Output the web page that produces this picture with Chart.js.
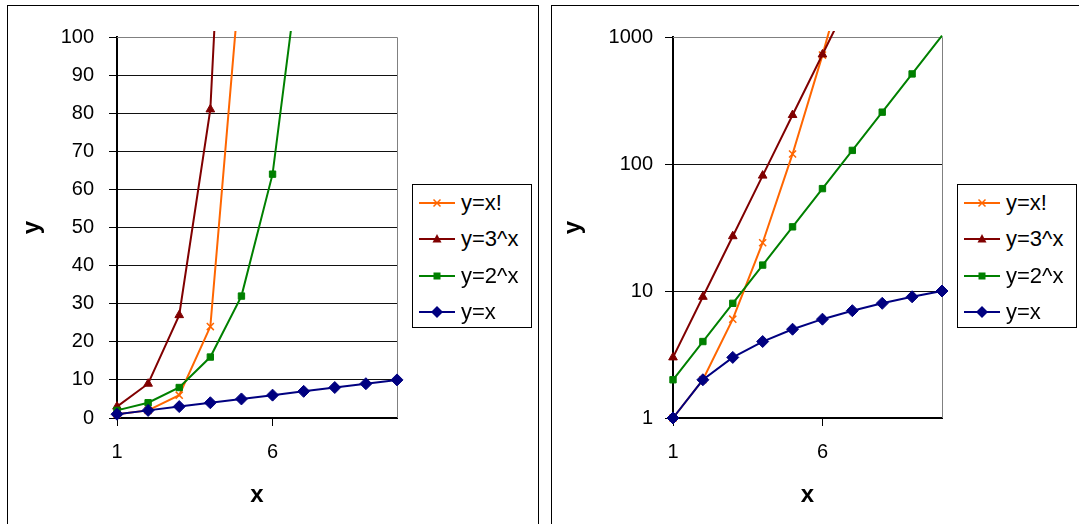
<!DOCTYPE html>
<html lang="en">
<head>
<meta charset="UTF-8" />
<script src="https://cdn.jsdelivr.net/npm/chart.js@4.4.0/dist/chart.umd.min.js"></script>
<style>
  body { margin: 0; background: #fff; width: 1079px; height: 524px; overflow: hidden; position: relative;
         font-family: "Liberation Sans", Arial, sans-serif; }
  .frame { position: absolute; border: 1px solid #000; }
  canvas { position: absolute; top: 0; }
  .legend { position: absolute; border: 1px solid #000; background: #fff; box-sizing: border-box; }
  .item { position: absolute; left: 6px; height: 36px; display: flex; align-items: center; font-size: 22px; color: #000; }
  .item svg { margin-right: 6px; }
</style>
<title>Growth</title>
</head>
<body>
<div class="frame" style="left:7px;top:5px;width:530px;height:540px"></div>
<div class="frame" style="left:551px;top:5px;width:540px;height:540px"></div>
<canvas id="lin" width="545" height="524" style="left:0"></canvas>
<canvas id="log" width="534" height="524" style="left:545px"></canvas>
<div class="legend" id="leg1" style="left:412px;top:184px;width:120px;height:144px"></div>
<div class="legend" id="leg2" style="left:957px;top:184px;width:120px;height:144px"></div>
<script>
  const xValues = [1, 2, 3, 4, 5, 6, 7, 8, 9, 10];
  const factorial = [1, 2, 6, 24, 120, 720, 5040, 40320, 362880, 3628800];
  const pow3 = [3, 9, 27, 81, 243, 729, 2187, 6561, 19683, 59049];
  const pow2 = [2, 4, 8, 16, 32, 64, 128, 256, 512, 1024];
  const identity = [1, 2, 3, 4, 5, 6, 7, 8, 9, 10];
  const seriesNames = ["y=x!", "y=3^x", "y=2^x", "y=x"];
  const xTickValues = [1, 6];
  const linTickValues = [0, 10, 20, 30, 40, 50, 60, 70, 80, 90, 100];
  const logTickValues = [1, 10, 100, 1000];

  const seriesValues = { "y=x!": factorial, "y=3^x": pow3, "y=2^x": pow2, "y=x": identity };
  const styles = {
    "y=x!": { color: "#FF6600", point: "crossRot", radius: 5, bw: 1.5 },
    "y=3^x": { color: "#800000", point: "triangle", radius: 5, bw: 1 },
    "y=2^x": { color: "#008000", point: "rect", radius: 4.5, bw: 1 },
    "y=x": { color: "#000080", point: "rectRot", radius: 6, bw: 1 },
  };

  const tickFont = { family: "'Liberation Sans', Arial", size: 20 };
  const titleFont = { family: "'Liberation Sans', Arial", size: 24, weight: "bold" };

  // dataset 0 is drawn last (on top), so y=x goes first
  function makeDatasets(yMax) {
    return seriesNames.slice().reverse().map((name) => {
      const s = styles[name];
      return {
        label: name,
        data: xValues.map((x, i) => ({ x, y: seriesValues[name][i] })),
        borderColor: s.color,
        backgroundColor: s.color,
        borderWidth: 2,
        pointStyle: s.point,
        // markers above the axis maximum are not drawn, only the line
        pointRadius: (c) => (c.raw && c.raw.y > yMax ? 0 : s.radius),
        pointBackgroundColor: s.color,
        pointBorderColor: s.color,
        pointBorderWidth: s.bw,
        tension: 0,
        clip: { left: 10, right: 10, top: 6, bottom: 10 },
      };
    });
  }

  const plotFrame = {
    id: "plotFrame",
    beforeDatasetsDraw(chart) {
      const { ctx, chartArea: a } = chart;
      ctx.save();
      ctx.strokeStyle = "#808080";
      ctx.lineWidth = 1;
      ctx.beginPath();
      ctx.moveTo(a.left, Math.round(a.top) + 0.5);
      ctx.lineTo(Math.round(a.right) + 0.5, Math.round(a.top) + 0.5);
      ctx.lineTo(Math.round(a.right) + 0.5, a.bottom);
      ctx.stroke();
      ctx.restore();
    },
  };

  function makeChart(id, yOpts, yWidth, padRight, yTitlePad, yTickPad) {
    return new Chart(document.getElementById(id), {
      type: "line",
      data: { datasets: makeDatasets(yOpts.max) },
      options: {
        responsive: false,
        animation: false,
        layout: { padding: { left: 0, top: 37, right: padRight, bottom: 0 } },
        plugins: { legend: { display: false }, tooltip: { enabled: false } },
        scales: {
          x: {
            type: "linear",
            min: 1,
            max: 10,
            afterBuildTicks: (s) => { s.ticks = xTickValues.map((v) => ({ value: v })); },
            afterFit: (s) => { s.height = 106; },
            grid: { drawOnChartArea: false, tickLength: 8, color: "#000" },
            border: { color: "#000", width: 2 },
            ticks: { font: tickFont, color: "#000", padding: 14, maxRotation: 0, autoSkip: false,
                     callback: (v) => String(v) },
            title: { display: true, text: "x", font: titleFont, color: "#000", padding: { top: 0, bottom: 14 } },
          },
          y: Object.assign({
            afterFit: (s) => { s.width = yWidth; },
            grid: {
              tickLength: 8,
              tickColor: "#000",
              color: (c) => (c.tick && c.tick.value === yOpts.max ? "#808080" : "#111"),
            },
            border: { color: "#000", width: 2 },
            ticks: { font: tickFont, color: "#000", padding: yTickPad, autoSkip: false,
                     callback: (v) => String(v) },
            title: { display: true, text: "y", font: titleFont, color: "#000", padding: { top: yTitlePad, bottom: 0 } },
          }, yOpts),
        },
      },
      plugins: [plotFrame],
    });
  }

  makeChart("lin", {
    type: "linear", min: 0, max: 100,
    afterBuildTicks: (s) => { s.ticks = linTickValues.map((v) => ({ value: v })); },
  }, 117, 148, 18, 15);

  makeChart("log", {
    type: "logarithmic", min: 1, max: 1000,
    afterBuildTicks: (s) => { s.ticks = logTickValues.map((v) => ({ value: v })); },
  }, 128, 137, 14, 12);

  function symbol(name) {
    const s = styles[name];
    const c = s.color;
    let m = "";
    if (s.point === "crossRot") m = `<path d="M14.5 14.5L21.5 21.5M21.5 14.5L14.5 21.5" stroke="${c}" stroke-width="1.5"/>`;
    if (s.point === "triangle") m = `<polygon points="18,13 22.5,21.5 13.5,21.5" fill="${c}"/>`;
    if (s.point === "rect") m = `<rect x="14.5" y="14.5" width="7" height="7" fill="${c}"/>`;
    if (s.point === "rectRot") m = `<polygon points="18,12 24,18 18,24 12,18" fill="${c}"/>`;
    return `<svg width="36" height="36"><line x1="0" y1="18" x2="36" y2="18" stroke="${c}" stroke-width="2"/>${m}</svg>`;
  }

  ["leg1", "leg2"].forEach((id) => {
    const box = document.getElementById(id);
    seriesNames.forEach((name, i) => {
      const d = document.createElement("div");
      d.className = "item";
      d.style.top = (0 + i * 36.4) + "px";
      d.innerHTML = symbol(name) + "<span>" + name + "</span>";
      box.appendChild(d);
    });
  });
</script>
</body>
</html>
